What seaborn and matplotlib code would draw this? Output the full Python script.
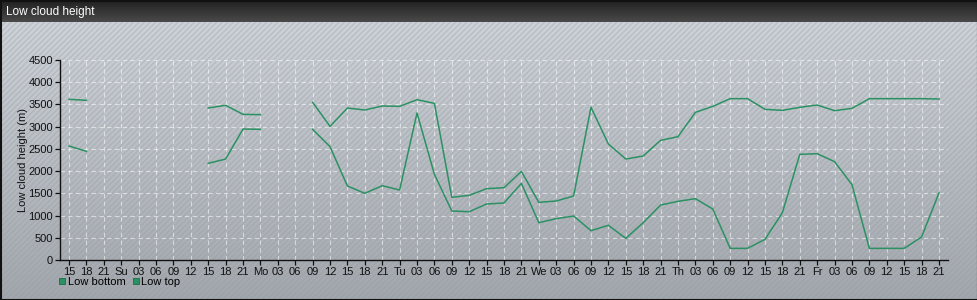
import numpy as np
import pandas as pd
import seaborn as sns
import matplotlib
matplotlib.use("Agg")
import matplotlib.pyplot as plt
from matplotlib.patches import Rectangle
from matplotlib.lines import Line2D
from matplotlib.colors import LinearSegmentedColormap

nan = np.nan
tick_labels = ["15", "18", "21",
               "Su", "03", "06", "09", "12", "15", "18", "21",
               "Mo", "03", "06", "09", "12", "15", "18", "21",
               "Tu", "03", "06", "09", "12", "15", "18", "21",
               "We", "03", "06", "09", "12", "15", "18", "21",
               "Th", "03", "06", "09", "12", "15", "18", "21",
               "Fr", "03", "06", "09", "12", "15", "18", "21"]

low_bottom = [2565, 2445, nan, nan, nan, nan, nan, nan,
              2175, 2272, 2947, 2940, nan, nan,
              2940, 2550, 1665, 1500, 1672, 1575, 3307, 1927, 1102, 1087,
              1260, 1282, 1725, 840, 930, 990, 660, 780, 487, 840, 1237,
              1320, 1380, 1147, 262, 262, 465, 1065, 2377, 2392, 2212,
              1695, 262, 262, 262, 517, 1507]

low_top = [3615, 3592, nan, nan, nan, nan, nan, nan,
           3420, 3480, 3277, 3270, nan, nan,
           3547, 3007, 3420, 3375, 3465, 3457, 3607, 3525, 1410, 1455,
           1605, 1627, 1995, 1297, 1327, 1440, 3435, 2610, 2272, 2340, 2692,
           2775, 3322, 3457, 3630, 3630, 3390, 3367, 3435, 3487, 3360,
           3412, 3630, 3630, 3630, 3630, 3622]

series_names = ["Low bottom", "Low top"]
line_color = "#2b9163"

# Build long table, splitting lines at missing values
rows = []
for name, vals in zip(series_names, [low_bottom, low_top]):
    seg = 0
    prev_nan = False
    for i, v in enumerate(vals):
        if np.isnan(v):
            prev_nan = True
            continue
        if prev_nan:
            seg += 1
            prev_nan = False
        rows.append({"x": i, "height": v, "series": name, "seg": f"{name}-{seg}"})
df = pd.DataFrame(rows)

W, H = 978, 300
fig = plt.figure(figsize=(W / 100, H / 100), dpi=100)
plt.rcParams['font.family'] = ['Liberation Sans', 'DejaVu Sans']

# Background
bg = fig.add_axes([0, 0, 1, 1], zorder=0)
bg.set_xlim(0, W)
bg.set_ylim(H, 0)
bg.axis("off")
grad = np.linspace(0, 1, 256).reshape(-1, 1)
cmap_body = LinearSegmentedColormap.from_list("body", ["#cfd3d8", "#a3a7ac"])
bg.imshow(grad, cmap=cmap_body, extent=[0, W, H, 22], aspect="auto", zorder=0)
bg.add_patch(Rectangle((0, 22), W, H - 22, facecolor="none", edgecolor="#8c9aa8",
                       hatch="//////", linewidth=0, alpha=0.35, zorder=1))
cmap_title = LinearSegmentedColormap.from_list("title", ["#202020", "#4a4a4a"])
bg.imshow(grad, cmap=cmap_title, extent=[0, W, 22, 0], aspect="auto", zorder=2)
bg.add_patch(Rectangle((0.5, 0.5), W - 1, H - 1, facecolor="none", edgecolor="#111111",
                       linewidth=1.5, zorder=3))
bg.text(6, 11.5, "Low cloud height", color="white", fontsize=8.5, va="center", ha="left")

# Main axes
ax = fig.add_axes([60 / W, 40 / H, 888 / W, 200 / H], zorder=1)
ax.patch.set_alpha(0)
sns.lineplot(data=df, x="x", y="height", hue="series", units="seg", estimator=None,
             palette={n: line_color for n in series_names}, linewidth=1.1,
             legend=False, ax=ax)

ax.set_xlim(-0.52, 50.52)
ax.set_ylim(0, 4500)
ax.set_xticks(range(len(tick_labels)))
ax.set_xticklabels(tick_labels)
ax.set_yticks(np.arange(0, 4501, 500))
ax.tick_params(axis="both", labelsize=8, length=3.5, width=0.9, color="#111111",
               labelcolor="#111111", pad=1.5)
ax.set_xlabel("")
ax.set_ylabel("Low cloud height (m)", fontsize=8, color="#111111", labelpad=0)
for s in ["top", "right"]:
    ax.spines[s].set_visible(False)
for s in ["left", "bottom"]:
    ax.spines[s].set_color("#111111")
    ax.spines[s].set_linewidth(1.0)
ax.grid(True, color="white", linestyle=(0, (4, 3)), linewidth=0.8, alpha=0.55)
ax.set_axisbelow(True)

handles = [Line2D([], [], marker="s", linestyle="none", markersize=5,
                  markerfacecolor=line_color, markeredgecolor="#1a6e47", markeredgewidth=0.6)
           for _ in series_names]
fig.legend(handles, series_names, loc="center left", bbox_to_anchor=(59 / W, 1 - 282 / H),
           ncol=2, frameon=False, fontsize=8, handlelength=0.6, handletextpad=0.2,
           columnspacing=0.6, borderaxespad=0, borderpad=0)

fig.savefig("out.png", dpi=100)
